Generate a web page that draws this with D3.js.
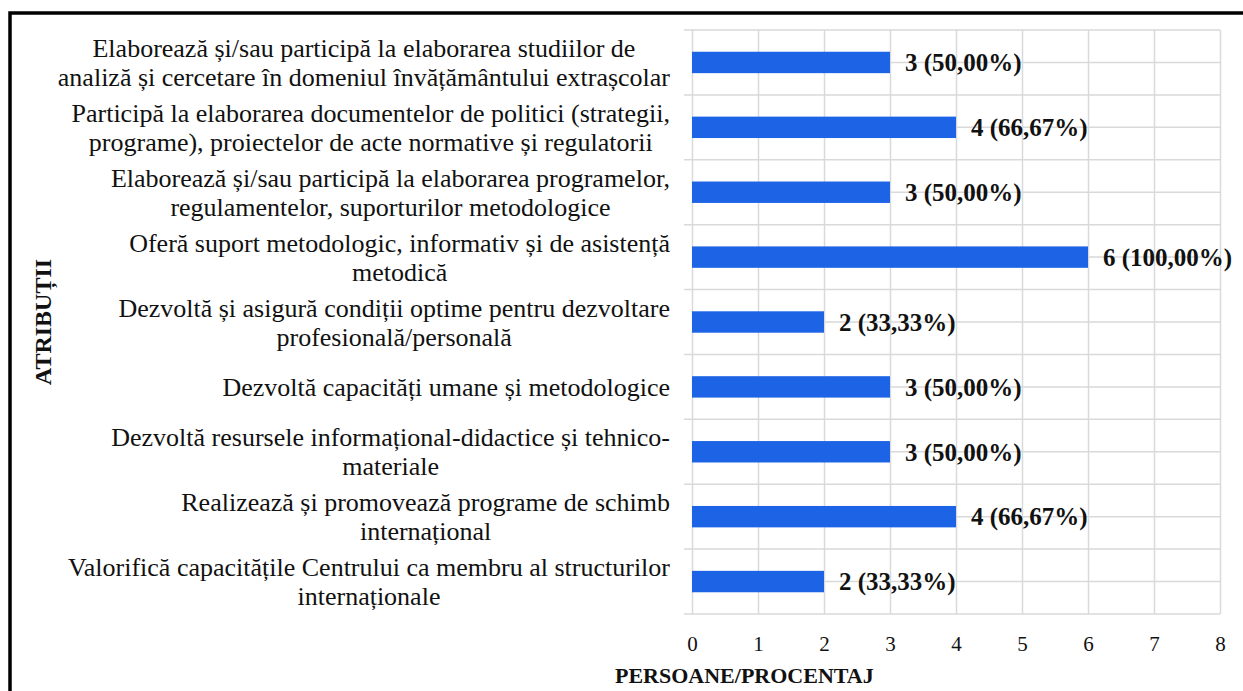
<!DOCTYPE html>
<html lang="ro">
<head>
    <meta charset="UTF-8">
    <title>Atribuții</title>
    <style>
        body { margin: 0; background: #fff; }
        svg text { font-family: "Liberation Serif", "Times New Roman", Times, serif; fill: #111; }
        .grid line { stroke: #d9d9d9; stroke-width: 1.5px; }
        .grid .domain { display: none; }
        .cat text { font-size: 26px; }
        .value { font-size: 25px; font-weight: bold; }
        .xtick text { font-size: 21px; }
        .title { font-size: 22px; font-weight: bold; }
        .title.y { font-size: 24px; }
    </style>
</head>
<body>
    <svg width="1243" height="691"></svg>
    <script src="https://d3js.org/d3.v7.min.js"></script>
    <script>
        const categories = [
            ["Elaborează și/sau participă la elaborarea studiilor de", "analiză și cercetare în domeniul învățământului extrașcolar"],
            ["Participă la elaborarea documentelor de politici (strategii,", "programe), proiectelor de acte normative și regulatorii"],
            ["Elaborează și/sau participă la elaborarea programelor,", "regulamentelor, suporturilor metodologice"],
            ["Oferă suport metodologic, informativ și de asistență", "metodică"],
            ["Dezvoltă și asigură condiții optime pentru dezvoltare", "profesională/personală"],
            ["Dezvoltă capacități umane și metodologice"],
            ["Dezvoltă resursele informațional-didactice și tehnico-", "materiale"],
            ["Realizează și promovează programe de schimb", "internațional"],
            ["Valorifică capacitățile Centrului ca membru al structurilor", "internaționale"]
        ];
        const values = [3, 4, 3, 6, 2, 3, 3, 4, 2];
        const xTicks = [0, 1, 2, 3, 4, 5, 6, 7, 8];
        const respondents = 6;

        const svg = d3.select("svg");
        const plotL = 692, plotR = 1220, plotT = 30, plotB = 614;

        // outer frame (cut by the picture edges)
        svg.append("path")
            .attr("d", "M10,691V13H1243")
            .attr("fill", "none")
            .attr("stroke", "#000")
            .attr("stroke-width", 3.5);

        const x = d3.scaleLinear().domain([0, 8]).range([plotL, plotR]);
        const y = d3.scaleBand()
            .domain(d3.range(categories.length))
            .range([plotT, plotB])
            .paddingInner(0.67)
            .paddingOuter(0.335);

        const step = y.step(), bw = y.bandwidth();

        // vertical gridlines
        svg.append("g")
            .attr("class", "grid")
            .attr("transform", `translate(0,${plotB})`)
            .call(d3.axisBottom(x).tickValues(xTicks).tickSize(-(plotB - plotT)).tickFormat(""));

        // horizontal gridlines at band edges and centres
        const hLines = [];
        y.domain().forEach(i => {
            hLines.push({ y: y(i) - (step - bw) / 2, tick: true });
            hLines.push({ y: y(i) + bw / 2, tick: false });
        });
        hLines.push({ y: plotB, tick: true });

        svg.append("g").attr("class", "grid")
            .selectAll("line")
            .data(hLines)
            .join("line")
            .attr("x1", d => d.tick ? plotL - 8 : plotL)
            .attr("x2", plotR)
            .attr("y1", d => d.y)
            .attr("y2", d => d.y);

        // bars
        svg.append("g")
            .selectAll("rect")
            .data(values)
            .join("rect")
            .attr("x", x(0))
            .attr("y", (d, i) => y(i))
            .attr("width", d => x(d) - x(0))
            .attr("height", bw)
            .attr("fill", "#1d63e6");

        const pct = d3.format(".2f");
        svg.append("g")
            .selectAll("text")
            .data(values)
            .join("text")
            .attr("class", "value")
            .attr("x", d => x(d) + 15)
            .attr("y", (d, i) => y(i) + bw / 2)
            .attr("dy", "0.35em")
            .text(d => `${d} (${pct(d / respondents * 100).replace(".", ",")}%)`);

        // x tick labels
        const xAxis = svg.append("g")
            .attr("class", "xtick")
            .attr("transform", `translate(0,${plotB})`)
            .call(d3.axisBottom(x).tickValues(xTicks).tickSize(0).tickPadding(22));
        xAxis.select(".domain").remove();
        xAxis.attr("font-family", null).attr("font-size", null);

        // category labels: centred lines, block right-aligned to the axis
        const lineH = 29;
        const cat = svg.append("g").attr("class", "cat");
        categories.forEach((lines, i) => {
            const cy = y(i) + bw / 2;
            const t = cat.append("text").attr("text-anchor", "middle");
            lines.forEach((s, j) => {
                t.append("tspan")
                    .attr("y", cy + (j - (lines.length - 1) / 2) * lineH)
                    .attr("dy", "0.35em")
                    .text(s);
            });
            let w = 0;
            t.selectAll("tspan").each(function () { w = Math.max(w, this.getComputedTextLength()); });
            t.selectAll("tspan").attr("x", 670 - w / 2);
        });

        // axis titles
        svg.append("text")
            .attr("class", "title")
            .attr("x", 615)
            .attr("y", 675)
            .attr("dy", "0.35em")
            .text("PERSOANE/PROCENTAJ");

        svg.append("text")
            .attr("class", "title y")
            .attr("transform", "translate(43,322) rotate(-90)")
            .attr("text-anchor", "middle")
            .attr("dy", "0.35em")
            .text("ATRIBUȚII");
    </script>
</body>
</html>
